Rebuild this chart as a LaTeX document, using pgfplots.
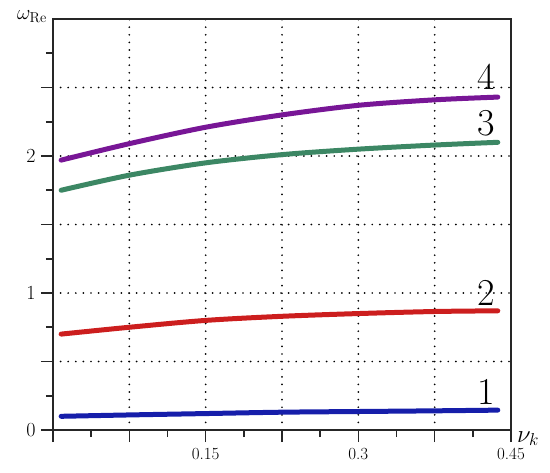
\documentclass[border=0pt]{standalone}
\usepackage{pgfplots}
\pgfplotsset{compat=1.18}
\definecolor{cblue}{RGB}{22,30,170}
\definecolor{cred}{RGB}{204,30,30}
\definecolor{cgreen}{RGB}{60,135,100}
\definecolor{cpurple}{RGB}{120,22,150}
\begin{document}
\begin{tikzpicture}
\begin{axis}[
  scale only axis, width=458pt, height=411pt,
  xmin=0, xmax=0.45, ymin=0, ymax=3,
  xtick={0,0.075,0.15,0.225,0.3,0.375,0.45},
  xticklabels={,,0.15,,0.3,,0.45},
  minor xtick={0.0375,0.1125,0.1875,0.2625,0.3375,0.4125},
  ytick={0,0.5,1,1.5,2,2.5},
  yticklabels={0,,1,,2,},
  minor ytick={0.25,0.75,1.25,1.75,2.25,2.75},
  tick pos=left, tick align=outside,
  major tick length=12pt, minor tick length=7pt,
  grid=major,
  major grid style={black, line width=1.9pt, line cap=round, dash pattern=on 0pt off 7.6pt},
  axis line style={line width=1.6pt, black!85},
  every tick/.style={line width=1.6pt, black!85},
  xticklabel style={font=\fontsize{17}{20}\selectfont, yshift=-3pt},
  yticklabel style={font=\fontsize{20}{22}\selectfont, xshift=-2pt},
  clip=false,
  every axis plot/.append style={line width=5pt, smooth, line cap=round},
]
\addplot[cblue] coordinates {(0.008,0.10) (0.075,0.11) (0.15,0.12) (0.225,0.13) (0.3,0.135) (0.375,0.14) (0.437,0.145)};
\addplot[cred] coordinates {(0.008,0.70) (0.075,0.75) (0.15,0.80) (0.225,0.83) (0.3,0.85) (0.375,0.865) (0.437,0.87)};
\addplot[cgreen] coordinates {(0.008,1.75) (0.075,1.86) (0.15,1.95) (0.225,2.01) (0.3,2.05) (0.375,2.08) (0.437,2.10)};
\addplot[cpurple] coordinates {(0.008,1.97) (0.075,2.09) (0.15,2.21) (0.225,2.30) (0.3,2.37) (0.375,2.41) (0.437,2.43)};
\node[font=\fontsize{38}{40}\selectfont] at (axis cs:0.426,2.58) {4};
\node[font=\fontsize{38}{40}\selectfont] at (axis cs:0.426,2.24) {3};
\node[font=\fontsize{38}{40}\selectfont] at (axis cs:0.426,1.00) {2};
\node[font=\fontsize{38}{40}\selectfont] at (axis cs:0.426,0.28) {1};
\node[anchor=base east, inner sep=0pt, font=\fontsize{20}{22}\selectfont] at ([xshift=-6pt,yshift=0pt]rel axis cs:0,1) {$\omega_{\mathrm{Re}}$};
\node[anchor=base west, inner sep=0pt, font=\fontsize{25}{27}\selectfont] at ([xshift=6pt,yshift=-12pt]rel axis cs:1,0) {$\nu_k$};
\coordinate (sw) at (rel axis cs:0,0);
\coordinate (ne) at (rel axis cs:1,1);
\end{axis}
\pgfresetboundingbox
\path ([shift={(-53pt,-42pt)}]sw) rectangle ([shift={(39pt,19pt)}]ne);
\end{tikzpicture}
\end{document}
